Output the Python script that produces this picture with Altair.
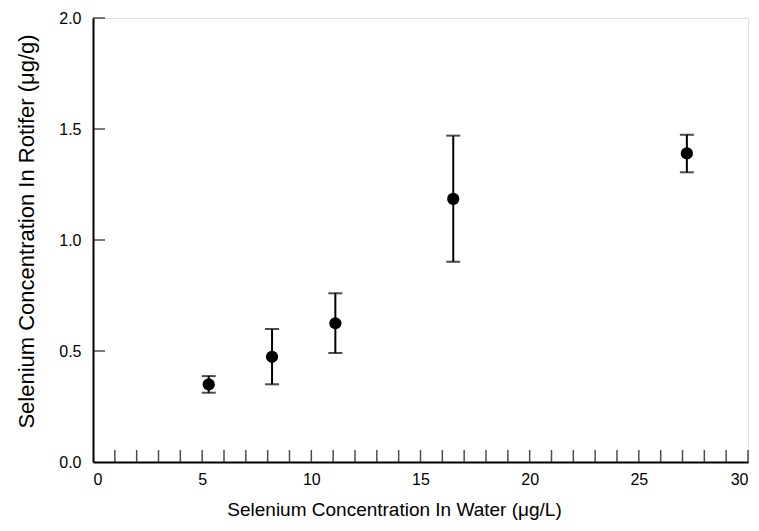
import altair as alt
import pandas as pd

water = [5.3, 8.2, 11.1, 16.5, 27.2]
rotifer = [0.35, 0.474, 0.625, 1.185, 1.39]
err_low = [0.312, 0.35, 0.491, 0.902, 1.305]
err_high = [0.387, 0.599, 0.76, 1.47, 1.474]

x_minor = list(range(1, 31))
y_major = [0.0, 0.5, 1.0, 1.5, 2.0]
y_inner = [0.5, 1.0, 1.5, 2.0]
x_labels = [0, 5, 10, 15, 20, 25, 30]

df = pd.DataFrame({"water": water, "rotifer": rotifer, "lo": err_low, "hi": err_high})
xt = pd.DataFrame({"x": x_minor, "y": [0.0] * len(x_minor)})
yt = pd.DataFrame({"y": y_inner, "x": [0.0] * len(y_inner)})

FONT = "Liberation Sans"
xs = alt.Scale(domain=[0, 30], nice=False, zero=False)
ys = alt.Scale(domain=[0, 2], nice=False, zero=False)

main_x_axis = alt.Axis(values=x_labels, tickSize=0, labelPadding=9, domainColor="black",
                       domainWidth=2, labelFont=FONT, labelFontSize=16, labelColor="black",
                       titleFont=FONT, titleFontSize=19, titleFontWeight="normal",
                       titleColor="black", titlePadding=13, grid=False, titleX=301,
                       title="Selenium Concentration In Water (μg/L)")
main_y_axis = alt.Axis(values=y_major, format=".1f", tickSize=0, labelPadding=12,
                       domainColor="black", domainWidth=2, labelFont=FONT, labelFontSize=16,
                       labelColor="black", titleFont=FONT, titleFontSize=22,
                       titleFontWeight="normal", titleColor="black", titlePadding=20,
                       grid=False, titleY=213,
                       title="Selenium Concentration In Rotifer (μg/g)")

base = alt.Chart(df)

points = base.mark_point(filled=True, color="black", size=150, opacity=1).encode(
    x=alt.X("water:Q", scale=xs, axis=main_x_axis),
    y=alt.Y("rotifer:Q", scale=ys, axis=main_y_axis),
)
bars = base.mark_rule(color="black", strokeWidth=2).encode(
    x=alt.X("water:Q", scale=xs), y=alt.Y("lo:Q", scale=ys), y2="hi:Q")
cap_hi = base.mark_tick(color="black", orient="horizontal", size=14, thickness=2).encode(
    x=alt.X("water:Q", scale=xs), y=alt.Y("hi:Q", scale=ys))
cap_lo = base.mark_tick(color="black", orient="horizontal", size=14, thickness=2).encode(
    x=alt.X("water:Q", scale=xs), y=alt.Y("lo:Q", scale=ys))

xticks = alt.Chart(xt).mark_tick(color="black", orient="vertical", size=12, thickness=1.5,
                                 yOffset=-6).encode(
    x=alt.X("x:Q", scale=xs), y=alt.Y("y:Q", scale=ys))
yticks = alt.Chart(yt).mark_tick(color="black", orient="horizontal", size=12, thickness=1.5,
                                 xOffset=6).encode(
    x=alt.X("x:Q", scale=xs), y=alt.Y("y:Q", scale=ys))

chart = alt.layer(points, bars, cap_hi, cap_lo, xticks, yticks).properties(
    width=655, height=444,
    autosize=alt.AutoSizeParams(type="none"),
    padding={"left": 85, "top": 10, "right": 3, "bottom": 61},
).configure_view(stroke=None).configure(background="white")

chart.save("out.html", embed_options={"renderer": "svg", "actions": False})
